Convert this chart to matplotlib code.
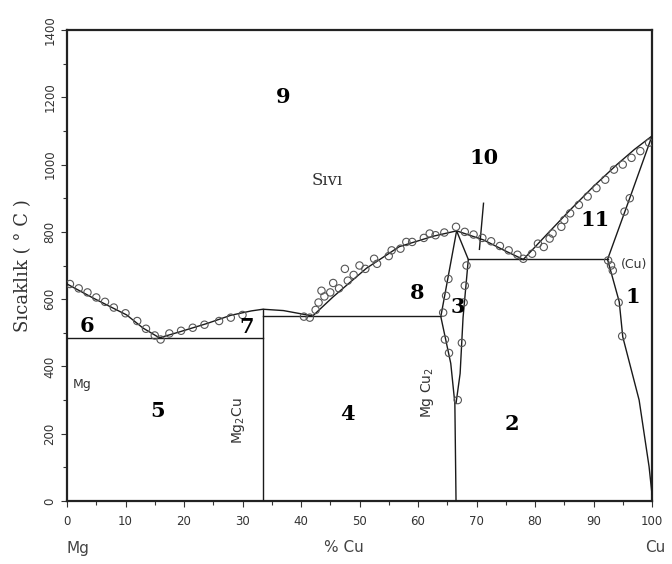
import matplotlib.pyplot as plt
import numpy as np

# --- phase boundary lines (wt.% Cu, temperature in C) ---
liq_mg_x = [0, 4.5, 10.2, 13.0, 15.8]
liq_mg_t = [645, 603, 553, 514, 485]
liq_mg2cu_x = [15.8, 19.3, 24.0, 28.0, 31.5, 33.5, 37.0, 42.0]
liq_mg2cu_t = [485, 503, 528, 552, 565, 570, 566, 550]
liq_peak_x = [42.0, 45.5, 51.2, 56.8, 62.6, 66.6, 71.2, 75.2, 78.0]
liq_peak_t = [550, 607, 692, 756, 787, 803, 776, 741, 718]
liq_cu_x = [78.0, 82.0, 86.0, 90.0, 94.0, 97.0, 100.0]
liq_cu_t = [718, 792, 865, 935, 1000, 1045, 1085]
sol_cu_x = [92.4, 96.4, 100.0]
sol_cu_t = [718, 910, 1085]
solvus_x = [92.4, 94.4, 95.0, 97.8, 99.5, 100.0]
solvus_t = [718, 592, 488, 300, 102, 20]
mgcu2_left_x = [66.6, 63.9, 65.6, 66.3, 66.5]
mgcu2_left_t = [803, 548, 409, 290, 0]
mgcu2_right_x = [66.6, 68.6, 67.7, 67.2, 66.5]
mgcu2_right_t = [803, 718, 545, 379, 290]

eut1_x, eut1_t = [0, 33.5], [485, 485]
eut2_x, eut2_t = [33.5, 63.9], [550, 550]
eut3_x, eut3_t = [68.6, 92.4], [718, 718]
mg2cu_x, mg2cu_t = [33.5, 33.5], [0, 570]

# --- experimental points (open circles) ---
pts_x = [0.5, 2.0, 3.5, 5.0, 6.5, 8.0, 10.0, 12.0, 13.5, 15.0, 16.0, 17.5,
         19.5, 21.5, 23.5, 26.0, 28.0, 30.0, 40.5, 41.5,
         42.5, 43.0, 44.0, 45.0, 46.5, 48.0, 49.0, 51.0, 53.0, 55.0, 57.0,
         59.0, 61.0, 63.0, 64.5, 66.5, 43.5, 45.5, 47.5, 50.0, 52.5, 55.5,
         58.0, 62.0,
         68.0, 69.5, 71.0, 72.5, 74.0, 75.5, 77.0, 78.0,
         79.5, 80.5, 81.5, 83.0, 84.5, 86.0, 87.5, 89.0, 90.5, 92.0, 93.5,
         95.0, 96.5, 98.0, 99.5, 82.5, 85.0,
         96.2, 95.3, 92.5, 93.0, 93.3, 94.3, 94.9,
         64.3, 64.8, 65.2, 64.6, 65.3, 68.3, 68.0, 67.8, 67.5, 66.8]
pts_t = [645, 632, 620, 605, 592, 575, 558, 535, 512, 492, 480, 498,
         506, 515, 524, 535, 545, 553, 548, 545,
         568, 590, 608, 620, 632, 655, 672, 690, 705, 728, 750,
         770, 782, 790, 798, 815, 625, 648, 690, 700, 720, 745,
         770, 795,
         800, 792, 782, 772, 758, 745, 732, 720,
         735, 765, 755, 795, 815, 855, 880, 905, 930, 955, 985,
         1000, 1020, 1040, 1065, 780, 835,
         900, 860, 715, 700, 685, 590, 490,
         560, 610, 660, 480, 440, 700, 640, 590, 470, 300]

# --- region labels ---
lab_txt = ["9", "10", "11", "1", "8", "3", "6", "7", "5", "4", "2"]
lab_x = [37.0, 71.2, 90.2, 96.7, 59.8, 66.8, 3.4, 30.7, 15.4, 47.9, 76.0]
lab_t = [1201, 1020, 835, 606, 618, 577, 520, 517, 268, 259, 229]

line_col = "#1a1a1a"

fig = plt.figure(figsize=(6.72, 5.64), dpi=100)
ax = fig.add_axes([67 / 672, 63 / 564, 585 / 672, 471 / 564])

for xs, ts in [(liq_mg_x, liq_mg_t), (liq_mg2cu_x, liq_mg2cu_t),
               (liq_peak_x, liq_peak_t), (liq_cu_x, liq_cu_t),
               (sol_cu_x, sol_cu_t), (solvus_x, solvus_t),
               (mgcu2_left_x, mgcu2_left_t), (mgcu2_right_x, mgcu2_right_t),
               (eut1_x, eut1_t), (eut2_x, eut2_t), (eut3_x, eut3_t),
               (mg2cu_x, mg2cu_t)]:
    ax.plot(xs, ts, color=line_col, lw=1.0, zorder=3)

ax.scatter(pts_x, pts_t, s=28, facecolors="none", edgecolors="#555555",
           linewidths=0.8, zorder=4)

for t, x, y in zip(lab_txt, lab_x, lab_t):
    ax.text(x, y, t, fontsize=15, fontweight="bold", family="DejaVu Serif",
            ha="center", va="center", zorder=5)

# leader line for region 10
ax.plot([71.2, 70.5], [885, 748], color=line_col, lw=1.0)

ax.text(44.5, 954, "Sıvı", fontsize=12, family="DejaVu Serif",
        ha="center", va="center", color="#333333")
ax.text(94.7, 702, "(Cu)", fontsize=9, ha="left", va="center", color="#333333")
ax.text(1.0, 345, "Mg", fontsize=9, ha="left", va="center", color="#333333")
ax.text(29.3, 240, r"Mg$_2$Cu", fontsize=10, rotation=90,
        ha="center", va="center", color="#333333")
ax.text(61.6, 324, r"Mg Cu$_2$", fontsize=10, rotation=90,
        ha="center", va="center", color="#333333")

ax.set_xlim(0, 100)
ax.set_ylim(0, 1400)
ax.set_xticks(np.arange(0, 101, 10))
ax.set_xticks(np.arange(0, 101, 5), minor=True)
ax.set_yticks(np.arange(0, 1401, 200))
ax.set_yticks(np.arange(0, 1401, 100), minor=True)
ax.tick_params(axis="both", which="both", direction="out", colors="#333333",
               labelsize=8.5, width=0.8)
ax.tick_params(which="major", length=4)
ax.tick_params(which="minor", length=3)
ax.tick_params(axis="x", pad=6)
for lbl in ax.get_yticklabels():
    lbl.set_rotation(90)
    lbl.set_va("center")
for sp in ax.spines.values():
    sp.set_linewidth(1.6)
    sp.set_color("#222222")

ax.set_ylabel("Sıcaklık ( ° C )", fontsize=13, family="DejaVu Serif",
              color="#333333", labelpad=8)

fig.text(78 / 672, 1 - 548 / 564, "Mg", fontsize=11, ha="center", va="center",
         color="#444444")
fig.text(344 / 672, 1 - 548 / 564, "% Cu", fontsize=11, ha="center",
         va="center", color="#444444")
fig.text(655 / 672, 1 - 548 / 564, "Cu", fontsize=11, ha="center",
         va="center", color="#444444")

fig.savefig("out.png", dpi=100)
